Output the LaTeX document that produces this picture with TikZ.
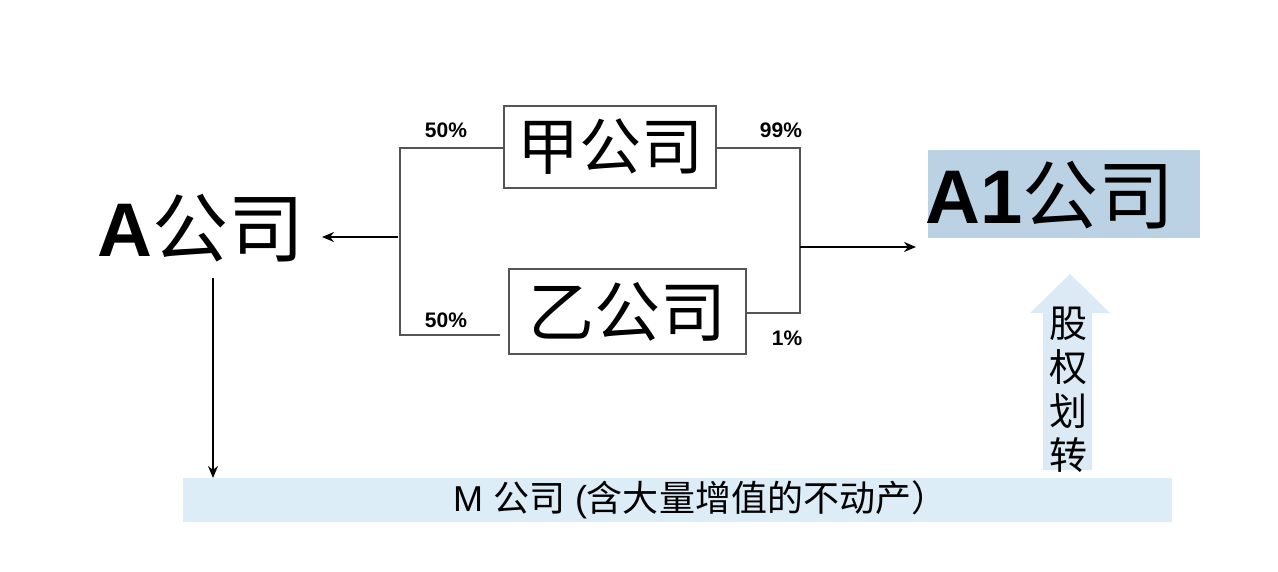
\documentclass[tikz,border=0pt]{standalone}
\usepackage{fontspec}
\setmainfont{Liberation Sans}
\newfontfamily\cjk{Noto Sans CJK SC}
\usetikzlibrary{arrows.meta}
\definecolor{aonebg}{HTML}{BBD2E4}
\definecolor{mbarbg}{HTML}{DCEDF7}
\definecolor{uparrowbg}{HTML}{DCEAF5}
\definecolor{linegray}{HTML}{555555}
\tikzset{
  conn/.style={draw=linegray, line width=1pt},
  arr/.style={draw=black, line width=0.8pt, -{Stealth[length=6pt,width=5pt]}},
  company/.style={draw=linegray, line width=1pt, inner sep=0pt, font=\cjk\fontsize{31pt}{31pt}\selectfont, text=black},
  pct/.style={font=\bfseries\fontsize{10.5pt}{11pt}\selectfont, inner sep=0pt},
}
\begin{document}
\begin{tikzpicture}[x=0.5pt,y=-0.5pt]
\useasboundingbox (0,0) rectangle (1278,572);
% M bar
\node[fill=mbarbg, minimum width=494.5pt, minimum height=22pt, inner sep=0pt, anchor=north west] (mbar) at (183,478) {};
\node[font=\fontsize{18pt}{18pt}\selectfont, inner sep=0pt] (mtext) at (700,500) {M {\cjk 公司} ({\cjk 含大量增值的不动产）}};
% A company
\node[font=\fontsize{38pt}{38pt}\selectfont, inner sep=0pt] (acomp) at (201,228) {\textbf{A}{\cjk 公司}};
% Jia and Yi boxes
\node[company, minimum width=106pt, minimum height=41pt] (jia) at (610,147) {甲公司};
\node[company, minimum width=118.5pt, minimum height=42.5pt, font=\cjk\fontsize{33pt}{33pt}\selectfont] (yi) at (627.5,311.5) {乙公司\hspace{10pt}};
% A1 company
\node[fill=aonebg, minimum width=136pt, minimum height=44pt, inner sep=0pt, anchor=north west] (a1box) at (928,150) {};
\node[font=\fontsize{38pt}{38pt}\selectfont, inner sep=0pt] (a1) at (1050,195) {\textbf{A1}{\cjk 公司}};
% up arrow
\fill[uparrowbg] (1043,470) -- (1043,313) -- (1030,313) -- (1070,274) -- (1110,313) -- (1092,313) -- (1092,470) -- cycle;
\node[font=\cjk\fontsize{19pt}{22pt}\selectfont, align=center, inner sep=0pt] (gq) at (1068,390) {股\\权\\划\\转};
% left connector
\coordinate (lt) at (400,148);
\coordinate (lb) at (400,335);
\coordinate (lm) at (398,237);
\coordinate (ybl) at (500,335);
\draw[conn] (jia.west |- lt) -- (lt) -- (lb) -- (ybl);
\draw[arr] (lm) -- (322,237) coordinate (atip);
% right connector
\coordinate (rt) at (800,148);
\coordinate (rb) at (800,313);
\coordinate (rm) at (800,247);
\draw[conn] (jia.east |- rt) -- (rt) -- (rb) -- (yi.east |- rb);
\draw[arr] (rm) -- (916,247) coordinate (btip);
% down arrow
\draw[arr] (213,278) coordinate (adown) -- (mbar.north -| adown);
% labels
\node[pct] (p1) at (446,130) {50\%};
\node[pct] (p2) at (446,320) {50\%};
\node[pct] (p3) at (781,130) {99\%};
\node[pct] (p4) at (787,338) {1\%};
\end{tikzpicture}
\end{document}
